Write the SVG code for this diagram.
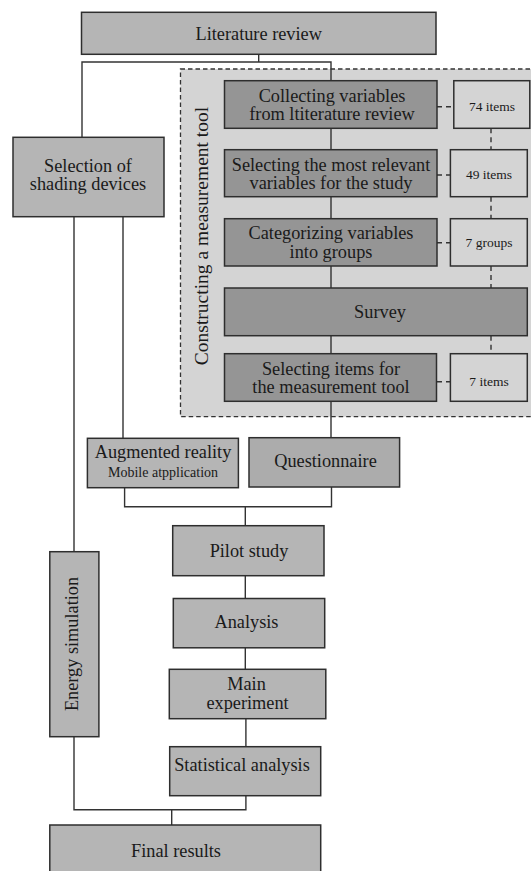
<svg xmlns="http://www.w3.org/2000/svg" width="531" height="871" viewBox="0 0 531 871">
<style>
  .box{stroke:#2e2e2e;stroke-width:1.5}
  .mid{fill:#b5b5b5}
  .dark{fill:#959595}
  .light{fill:#d4d4d4}
  .q{fill:#acacac}
  text{font-family:'Liberation Serif','DejaVu Serif',serif;fill:#1a1a1a;text-anchor:middle}
  .t{font-size:18.3px}
  .s{font-size:13.5px}
  .ln{fill:none;stroke:#333;stroke-width:1.4}
  .dl{fill:none;stroke:#333;stroke-width:1.4;stroke-dasharray:5,4}
</style>
<rect width="531" height="871" fill="#ffffff"/>

<g id="container">
  <rect x="180.5" y="69" width="365" height="347.7" fill="#d4d4d4" stroke="#333" stroke-width="1.3" stroke-dasharray="4.5,3"/>
  <text class="t" font-family="Liberation Serif, serif" style="font-size:19.5px" transform="translate(208,236) rotate(-90)">Constructing a measurement tool</text>
</g>

<g id="connectors">
  <path class="ln" d="M258.7,54.3 V62 M82,138 V62 H331 V81"/>
  <path class="ln" d="M331,128.3 V150 M331,196.7 V219 M331,266 V288 M331,335.7 V354 M331,401.3 V438"/>
  <path class="dl" d="M437,106.7 H453.8 M437,175 H450.4 M437,242.7 H450.4 M437,381.7 H450.4"/>
  <path class="dl" d="M491,128.3 V150 M491,196.7 V219 M491,266 V288 M491,335.7 V354"/>
  <path class="ln" d="M74,216.7 V552 M123,216.7 V438.3"/>
  <path class="ln" d="M124.6,487.7 V506.7 H331.5 V487 M245.3,506.7 V526"/>
  <path class="ln" d="M245.3,575.7 V599 M245.3,648 V669.3 M245.9,718.7 V746.7"/>
  <path class="ln" d="M74,736.7 V809.7 H245.9 V795.7 M171.7,809.7 V825"/>
</g>

<g id="literature-review">
  <rect class="box mid" x="81.5" y="12.3" width="354.5" height="42"/>
  <text class="t" x="258.7" y="40">Literature review</text>
</g>

<g id="selection-shading">
  <rect class="box mid" x="13" y="137.3" width="151" height="79.4"/>
  <text class="t" x="88" y="171.5">Selection of</text>
  <text class="t" x="88" y="189.7">shading devices</text>
</g>

<g id="collecting">
  <rect class="box dark" x="224.5" y="80.7" width="212.5" height="47.6"/>
  <text class="t" x="332" y="101.5">Collecting variables</text>
  <text class="t" x="332" y="119.8">from ltiterature review</text>
</g>
<g id="items-74">
  <rect class="box light" x="453.8" y="80.7" width="76" height="47.6"/>
  <text class="s" x="492" y="110.5">74 items</text>
</g>

<g id="selecting-relevant">
  <rect class="box dark" x="224.5" y="149.7" width="212.5" height="47"/>
  <text class="t" x="331" y="170.8">Selecting the most relevant</text>
  <text class="t" x="331" y="189.2">variables for the study</text>
</g>
<g id="items-49">
  <rect class="box light" x="450.4" y="149.7" width="76.9" height="47"/>
  <text class="s" x="489" y="178.5">49 items</text>
</g>

<g id="categorizing">
  <rect class="box dark" x="224.5" y="218.7" width="212.5" height="47.3"/>
  <text class="t" x="331" y="239.3">Categorizing variables</text>
  <text class="t" x="331" y="258.2">into groups</text>
</g>
<g id="groups-7">
  <rect class="box light" x="450.4" y="218.7" width="76.9" height="47.3"/>
  <text class="s" x="489" y="247">7 groups</text>
</g>

<g id="survey">
  <rect class="box dark" x="224.5" y="288" width="302.8" height="47.7"/>
  <text class="t" x="380" y="317.5">Survey</text>
</g>

<g id="selecting-items">
  <rect class="box dark" x="224.5" y="353.7" width="212" height="47.6"/>
  <text class="t" x="331" y="374.8">Selecting items for</text>
  <text class="t" x="331" y="393.3">the measurement tool</text>
</g>
<g id="items-7">
  <rect class="box light" x="450.4" y="353.7" width="76.9" height="47.6"/>
  <text class="s" x="489" y="386">7 items</text>
</g>

<g id="augmented-reality">
  <rect class="box mid" x="87.4" y="438.3" width="151" height="49.4"/>
  <text class="t" x="163" y="458.3">Augmented reality</text>
  <text class="s" style="font-size:14px" x="163" y="476.7">Mobile atpplication</text>
</g>

<g id="questionnaire">
  <rect class="box q" x="249" y="437.7" width="150.6" height="49.3"/>
  <text class="t" x="325.5" y="466.7">Questionnaire</text>
</g>

<g id="pilot-study">
  <rect class="box mid" x="172.7" y="525.7" width="151.3" height="50"/>
  <text class="t" x="249" y="556.7">Pilot study</text>
</g>

<g id="analysis">
  <rect class="box mid" x="173.3" y="598.5" width="151.4" height="49.3"/>
  <text class="t" x="246.5" y="628.3">Analysis</text>
</g>

<g id="main-experiment">
  <rect class="box mid" x="169.3" y="669.3" width="156.5" height="49.4"/>
  <text class="t" x="246.5" y="690.3">Main</text>
  <text class="t" x="247.5" y="708.5">experiment</text>
</g>

<g id="statistical-analysis">
  <rect class="box mid" x="169.7" y="746.7" width="151" height="49"/>
  <text class="t" x="242" y="771">Statistical analysis</text>
</g>

<g id="energy-simulation">
  <rect class="box mid" x="49.8" y="551.7" width="49.1" height="185"/>
  <text class="t" transform="translate(78,644) rotate(-90)">Energy simulation</text>
</g>

<g id="final-results">
  <rect class="box mid" x="49.8" y="825" width="270.9" height="60"/>
  <text class="t" x="176" y="856.7">Final results</text>
</g>
</svg>
